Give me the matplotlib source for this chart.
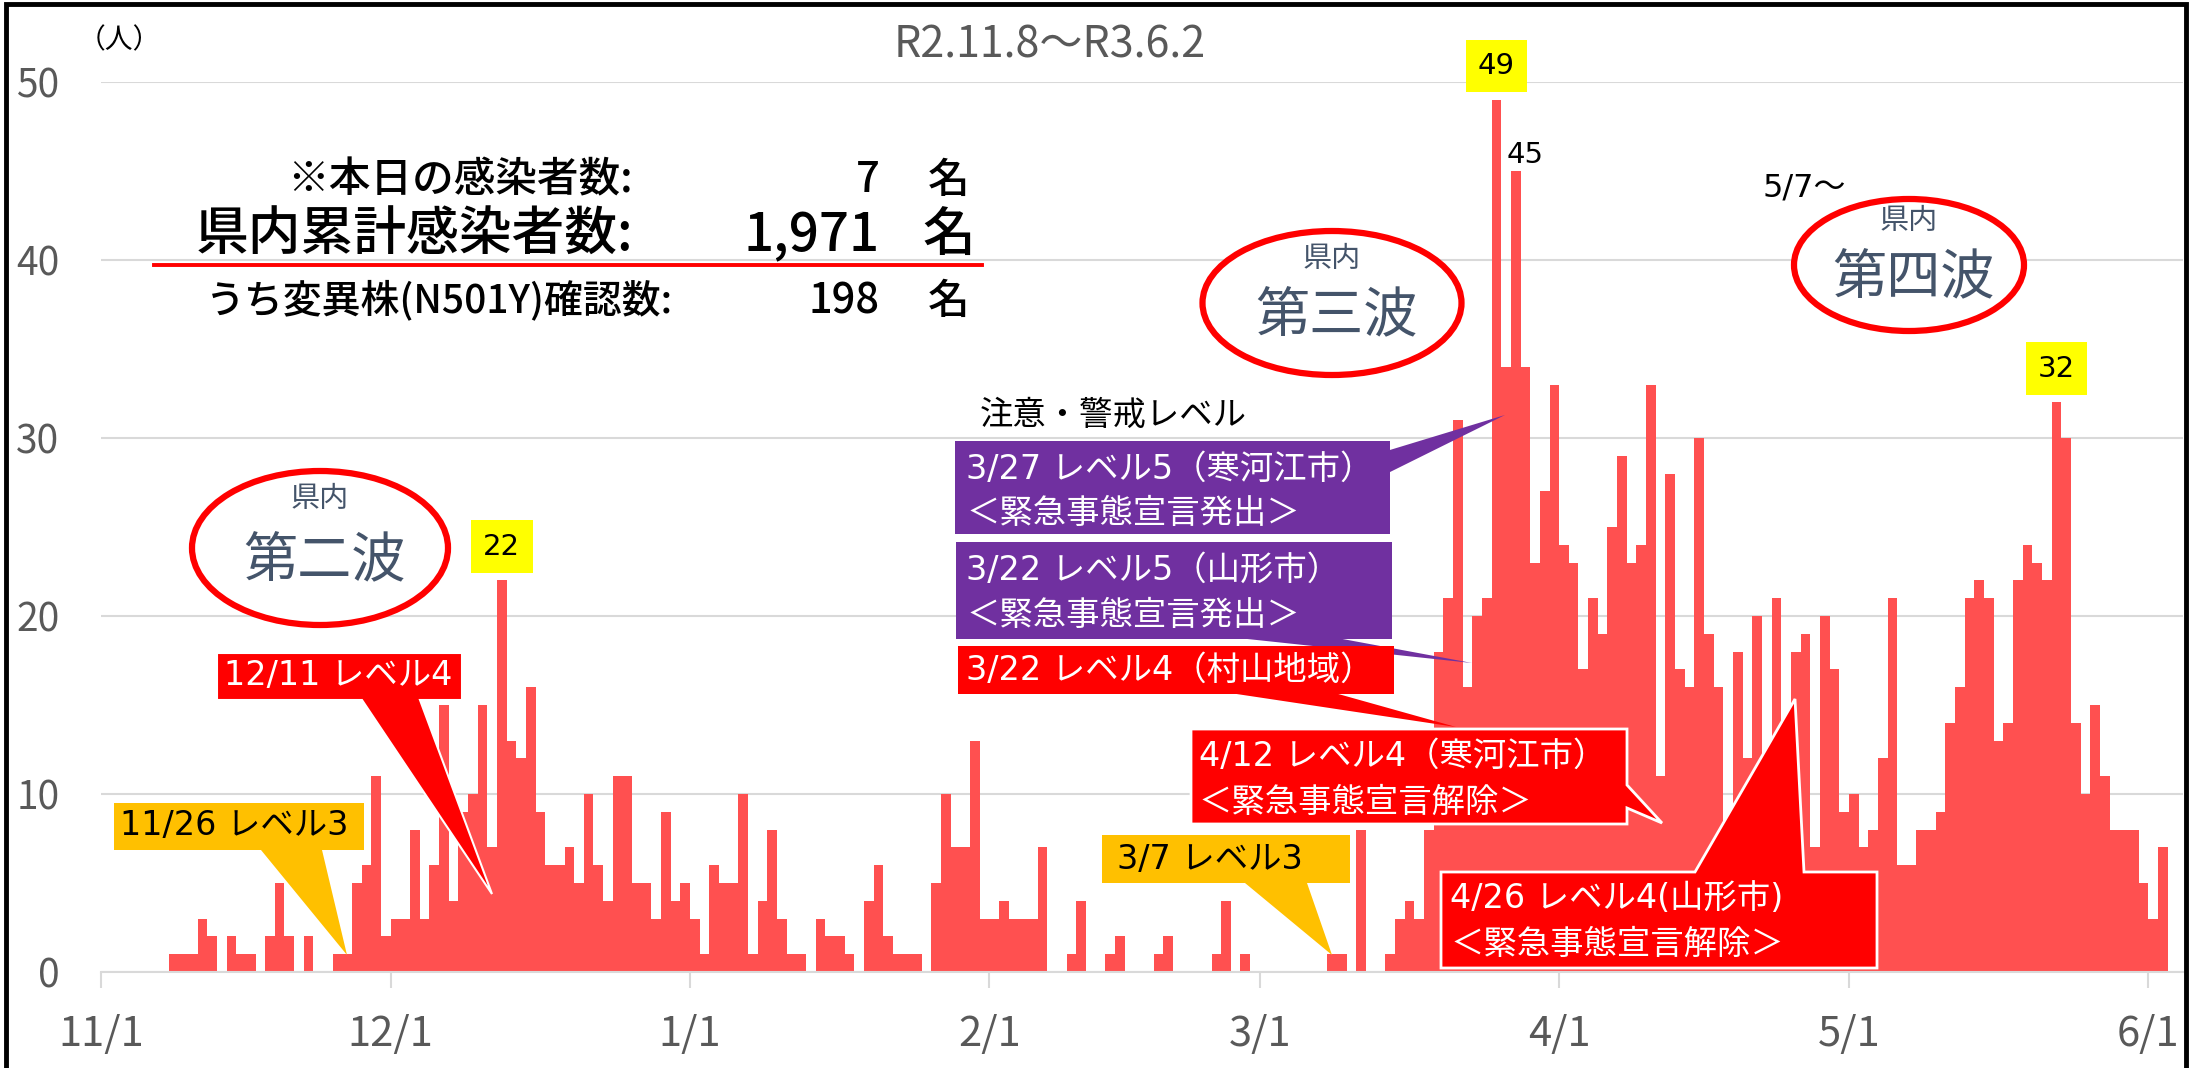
import numpy as np
import pandas as pd
import matplotlib
matplotlib.use('Agg')
import matplotlib.pyplot as plt
from matplotlib.patches import Polygon, Ellipse

plt.rcParams['font.family'] = ['Noto Sans CJK JP', 'DejaVu Sans']

# daily new cases, 2020-11-08 .. 2021-06-02
nov = [1, 1, 1, 3, 2, 0, 2, 1, 1, 0, 2, 5, 2, 0, 2, 0, 0, 1, 1, 5, 6, 11, 2]
dec = [3, 3, 8, 3, 6, 15, 4, 9, 10, 15, 7, 22, 13, 12, 16, 9, 6, 6, 7, 5,
       10, 6, 4, 11, 11, 5, 5, 3, 9, 4, 5]
jan = [3, 1, 6, 5, 5, 10, 1, 4, 8, 3, 1, 1, 0, 3, 2, 2, 1, 0, 4, 6,
       2, 1, 1, 1, 0, 5, 10, 7, 7, 13, 3]
feb = [3, 4, 3, 3, 3, 7, 0, 0, 1, 4, 0, 0, 1, 2, 0, 0, 0, 1, 2, 0,
       0, 0, 0, 1, 4, 0, 1, 0]
mar = [0, 0, 0, 0, 0, 0, 0, 1, 1, 0, 8, 0, 0, 1, 3, 4, 3, 8, 18, 21,
       31, 16, 20, 21, 49, 34, 45, 34, 23, 27, 33]
apr = [24, 23, 17, 21, 19, 25, 29, 23, 24, 33, 11, 28, 17, 16, 30, 19, 16, 6, 18, 12,
       20, 9, 21, 12, 18, 19, 7, 20, 17, 9]
may = [10, 7, 8, 12, 21, 6, 6, 8, 8, 9, 14, 16, 21, 22, 21, 13, 14, 22, 24, 23,
       22, 32, 30, 14, 10, 15, 11, 8, 8, 8, 5]
jun = [3, 7]
cases = np.array(nov + dec + jan + feb + mar + apr + may + jun)

start = '2020-11-08'
origin = pd.Timestamp('2020-11-01')
dates = pd.date_range(start, periods=len(cases))

tick_dates = ['2020-11-01', '2020-12-01', '2021-01-01', '2021-02-01',
              '2021-03-01', '2021-04-01', '2021-05-01', '2021-06-01']
tick_labels = ['11/1', '12/1', '1/1', '2/1', '3/1', '4/1', '5/1', '6/1']

boxed_days = ['2020-12-12', '2021-03-25', '2021-05-22']
plain_days = ['2021-03-27']


def dayx(d):
    return (pd.Timestamp(d) - origin).days


x = np.array([dayx(d) for d in dates]) + 0.5

W, H = 2193, 1068
fig = plt.figure(figsize=(W / 100, H / 100), dpi=100)
ax = fig.add_axes([101 / W, 1 - 972 / H, (2183 - 101) / W, (972 - 82) / H])

ax.bar(x, cases, width=1.0, color='#FF5050', linewidth=0, zorder=2)
ax.set_xlim(0, 215.6)
ax.set_ylim(0, 50)
ax.set_yticks(range(0, 51, 10))
ax.set_xticks([dayx(d) for d in tick_dates])
ax.set_xticklabels(tick_labels)
ax.yaxis.grid(True, color='#D9D9D9', lw=1.5)
ax.set_axisbelow(True)
for s in ['top', 'right', 'left']:
    ax.spines[s].set_visible(False)
ax.spines['bottom'].set_color('#D9D9D9')
ax.spines['bottom'].set_linewidth(1.5)
ax.tick_params(axis='x', length=11.5, width=1.5, color='#D9D9D9',
               labelsize=30, labelcolor='#595959', pad=19)
ax.tick_params(axis='y', length=0, labelsize=28, labelcolor='#595959', pad=30)

LAT = ['DejaVu Sans', 'Noto Sans CJK JP']

for d in boxed_days:
    v = cases[list(dates).index(pd.Timestamp(d))]
    ax.text(dayx(d) + 0.5, v + 1.9, str(v), ha='center', va='center', fontsize=21,
            family=LAT,
            bbox=dict(boxstyle='square,pad=0.42', fc='#FFFF00', ec='none'),
            clip_on=False, zorder=5)
for d in plain_days:
    v = cases[list(dates).index(pd.Timestamp(d))]
    ax.text(dayx(d) + 1.5, v + 0.9, str(v), ha='center', va='center', fontsize=21,
            family=LAT, clip_on=False, zorder=5)

# overlay in pixel coordinates for the callouts and text
ov = fig.add_axes([0, 0, 1, 1], facecolor='none')
ov.set_xlim(0, W)
ov.set_ylim(H, 0)
ov.axis('off')

# frame
ov.plot([6, 6, 2186, 2186], [H, 4, 4, H], color='black', lw=3.5, solid_joinstyle='miter')

ov.text(119, 40, '（人）', ha='center', va='center', fontsize=20)
ov.text(1050, 45, 'R2.11.8〜R3.6.2', ha='center', va='center', fontsize=31, color='#595959')

# summary block
ov.text(633, 180, '※本日の感染者数:', ha='right', va='center', fontsize=30, weight='medium')
ov.text(880, 180, '7', ha='right', va='center', fontsize=30, weight='medium')
ov.text(949, 180, '名', ha='center', va='center', fontsize=30, weight='medium')
ov.text(633, 236, '県内累計感染者数:', ha='right', va='center', fontsize=38, weight='medium')
ov.text(880, 236, '1,971', ha='right', va='center', fontsize=38, weight='medium')
ov.text(949, 236, '名', ha='center', va='center', fontsize=38, weight='medium')
ov.plot([154, 982], [265, 265], color='#FF0000', lw=2.8)
ov.text(673, 301, 'うち変異株(N501Y)確認数:', ha='right', va='center', fontsize=28, weight='medium')
ov.text(880, 301, '198', ha='right', va='center', fontsize=30, weight='medium')
ov.text(949, 301, '名', ha='center', va='center', fontsize=30, weight='medium')

# wave ellipses
for cx, cy, w, h, dy, name in [(320, 548, 256, 154, -49, '第二波'),
                               (1332, 303, 259, 144, -44, '第三波'),
                               (1909, 265, 230, 132, -44, '第四波')]:
    ov.add_patch(Ellipse((cx, cy), w, h, fc='white', ec='#FF0000', lw=4.5, zorder=3))
    ov.text(cx, cy + dy, '県内', ha='center', va='center', fontsize=21, color='#44546A', zorder=4)
    ov.text(cx + 4, cy + 14, name, ha='center', va='center', fontsize=39, color='#44546A', zorder=4)

ov.text(1804, 188, '5/7〜', ha='center', va='center', fontsize=23, family=LAT)
ov.text(1113, 415, '注意・警戒レベル', ha='center', va='center', fontsize=24)

RED = '#FF0000'
PUR = '#7030A0'
ORG = '#FFC000'
FS = 24

# thin wedges behind the boxes
ov.add_patch(Polygon([(1380, 453), (1505, 415), (1380, 477)], fc=PUR, ec='none', zorder=3))
ov.add_patch(Polygon([(1210, 635), (1472, 663), (1321, 635)], fc=PUR, ec='none', zorder=3))
ov.add_patch(Polygon([(1210, 690), (1456, 727), (1324, 690)], fc=RED, ec='none', zorder=3))

# boxes
ov.add_patch(Polygon([(955, 441), (1390, 441), (1390, 534), (955, 534)], fc=PUR, ec='none', zorder=4))
ov.add_patch(Polygon([(956, 542), (1392, 542), (1392, 639), (956, 639)], fc=PUR, ec='none', zorder=4))
ov.add_patch(Polygon([(958, 646), (1394, 646), (1394, 694), (958, 694)], fc=RED, ec='none', zorder=4))

ov.text(966, 469, '3/27 レベル5（寒河江市）', va='center', fontsize=FS, family=LAT, color='white', zorder=5)
ov.text(966, 514, '＜緊急事態宣言発出＞', va='center', fontsize=FS, family=LAT, color='white', zorder=5)
ov.text(966, 570, '3/22 レベル5（山形市）', va='center', fontsize=FS, family=LAT, color='white', zorder=5)
ov.text(966, 616, '＜緊急事態宣言発出＞', va='center', fontsize=FS, family=LAT, color='white', zorder=5)
ov.text(966, 670, '3/22 レベル4（村山地域）', va='center', fontsize=FS, family=LAT, color='white', zorder=5)

# 12/11 callout
ov.add_patch(Polygon([(217, 653), (462, 653), (462, 700), (420, 700), (492, 894),
                      (362, 700), (217, 700)], fc=RED, ec='white', lw=1.5, zorder=4))
ov.text(224, 676, '12/11 レベル4', va='center', fontsize=FS, family=LAT, color='white', zorder=5)

# 11/26 callout
ov.add_patch(Polygon([(114, 803), (364, 803), (364, 850), (322, 850), (347, 955),
                      (261, 850), (114, 850)], fc=ORG, ec='none', zorder=4))
ov.text(120, 826, '11/26 レベル3', va='center', fontsize=FS, family=LAT, color='black', zorder=5)

# 3/7 callout
ov.add_patch(Polygon([(1102, 835), (1350, 835), (1350, 883), (1307, 883), (1332, 955),
                      (1245, 883), (1102, 883)], fc=ORG, ec='none', zorder=4))
ov.text(1117, 859, '3/7 レベル3', va='center', fontsize=FS, family=LAT, color='black', zorder=5)

# 4/12 callout
ov.add_patch(Polygon([(1191, 729), (1627, 729), (1627, 785), (1662, 823), (1627, 808),
                      (1627, 824), (1191, 824)], fc=RED, ec='white', lw=2, zorder=4))
ov.text(1199, 756, '4/12 レベル4（寒河江市）', va='center', fontsize=FS, family=LAT, color='white', zorder=5)
ov.text(1199, 802, '＜緊急事態宣言解除＞', va='center', fontsize=FS, family=LAT, color='white', zorder=5)

# 4/26 callout
ov.add_patch(Polygon([(1441, 872), (1695, 872), (1795, 699), (1804, 872), (1877, 872),
                      (1877, 968), (1441, 968)], fc=RED, ec='white', lw=2, zorder=4))
ov.text(1450, 898, '4/26 レベル4(山形市)', va='center', fontsize=FS, family=LAT, color='white', zorder=5)
ov.text(1450, 944, '＜緊急事態宣言解除＞', va='center', fontsize=FS, family=LAT, color='white', zorder=5)

fig.savefig('out.png', dpi=100)
